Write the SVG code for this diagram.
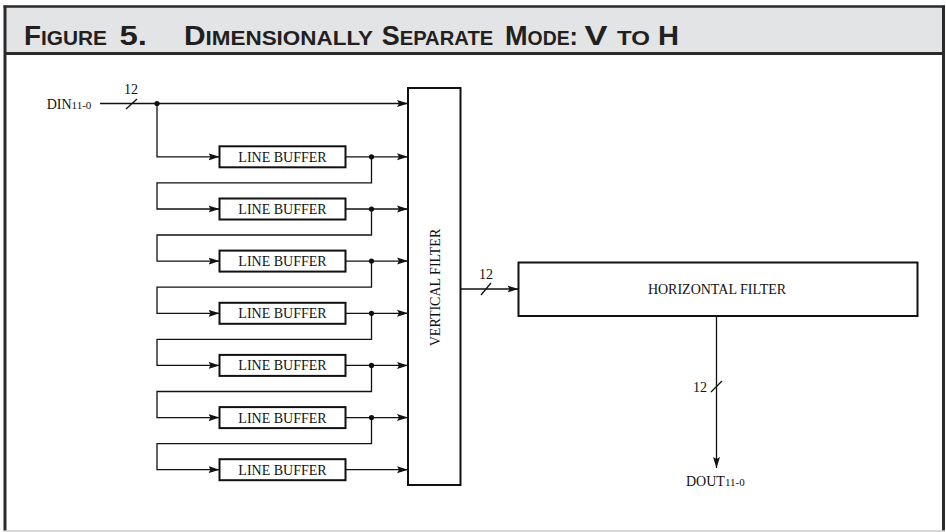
<svg xmlns="http://www.w3.org/2000/svg" width="946" height="532" viewBox="0 0 946 532">
<defs>
<style>
.ttl{font-family:"Liberation Sans",Arial,sans-serif;font-weight:bold;fill:#231f20}
.lbl{font-family:"Liberation Serif","Times New Roman",serif;font-size:14px;fill:#111}
.sub{font-size:11px}
.box{fill:#fff;stroke:#111;stroke-width:2}
.wire{fill:none;stroke:#111;stroke-width:1.3}
.dot{fill:#111}
</style>
<marker id="arr" markerWidth="12" markerHeight="8" refX="11" refY="4" orient="auto" markerUnits="userSpaceOnUse">
<path d="M0,0.5 L11,4 L0,7.5 L2,4 Z" fill="#111"/>
</marker>
</defs>
<rect x="0" y="0" width="946" height="532" fill="#fff"/>
<g id="frame">
<rect x="5" y="6.5" width="938.5" height="47" fill="#e3e4e5"/>
<line x1="3.5" y1="6.5" x2="945" y2="6.5" stroke="#2a2a2a" stroke-width="2.5"/>
<line x1="5" y1="53.5" x2="943.5" y2="53.5" stroke="#2a2a2a" stroke-width="3"/>
<line x1="5" y1="5.5" x2="5" y2="531" stroke="#2a2a2a" stroke-width="3"/>
<line x1="943.5" y1="5.5" x2="943.5" y2="531" stroke="#2a2a2a" stroke-width="3"/>
<line x1="3.5" y1="531" x2="945" y2="531" stroke="#c8c8c8" stroke-width="1.5"/>
</g>
<g id="title">
<text class="ttl" x="24" y="44.5" textLength="83" lengthAdjust="spacingAndGlyphs"><tspan font-size="28">F</tspan><tspan font-size="21">IGURE</tspan></text>
<text class="ttl" x="119.5" y="44.5" font-size="28" textLength="27.5" lengthAdjust="spacingAndGlyphs">5.</text>
<text class="ttl" x="184" y="44.5" textLength="189" lengthAdjust="spacingAndGlyphs"><tspan font-size="28">D</tspan><tspan font-size="21">IMENSIONALLY</tspan></text>
<text class="ttl" x="381.7" y="44.5" textLength="111.5" lengthAdjust="spacingAndGlyphs"><tspan font-size="28">S</tspan><tspan font-size="21">EPARATE</tspan></text>
<text class="ttl" x="505" y="44.5" textLength="73" lengthAdjust="spacingAndGlyphs"><tspan font-size="28">M</tspan><tspan font-size="20">ODE</tspan><tspan font-size="26">:</tspan></text>
<text class="ttl" x="584.5" y="44.5" font-size="28" textLength="23" lengthAdjust="spacingAndGlyphs">V</text>
<text class="ttl" x="617" y="44.5" font-size="21" textLength="33" lengthAdjust="spacingAndGlyphs">TO</text>
<text class="ttl" x="658" y="44.5" font-size="28" textLength="21" lengthAdjust="spacingAndGlyphs">H</text>
</g>
<g id="connectors">
<path class="wire" d="M100,103.5 H408" marker-end="url(#arr)"/>
<line class="wire" x1="126" y1="109" x2="137" y2="99"/>
<path class="wire" d="M157,103.5 V156.8 H219.5" marker-end="url(#arr)"/>
<circle class="dot" cx="157" cy="103.5" r="2.6"/>
<path class="wire" d="M345.5,156.8 H408" marker-end="url(#arr)"/>
<circle class="dot" cx="371.5" cy="156.8" r="2.6"/>
<path class="wire" d="M371.5,156.8 V182.8 H157 V209 H219.5" marker-end="url(#arr)"/>
<path class="wire" d="M345.5,209 H408" marker-end="url(#arr)"/>
<circle class="dot" cx="371.5" cy="209" r="2.6"/>
<path class="wire" d="M371.5,209 V235 H157 V261.1 H219.5" marker-end="url(#arr)"/>
<path class="wire" d="M345.5,261.1 H408" marker-end="url(#arr)"/>
<circle class="dot" cx="371.5" cy="261.1" r="2.6"/>
<path class="wire" d="M371.5,261.1 V287.2 H157 V313.3 H219.5" marker-end="url(#arr)"/>
<path class="wire" d="M345.5,313.3 H408" marker-end="url(#arr)"/>
<circle class="dot" cx="371.5" cy="313.3" r="2.6"/>
<path class="wire" d="M371.5,313.3 V339.4 H157 V365.4 H219.5" marker-end="url(#arr)"/>
<path class="wire" d="M345.5,365.4 H408" marker-end="url(#arr)"/>
<circle class="dot" cx="371.5" cy="365.4" r="2.6"/>
<path class="wire" d="M371.5,365.4 V391.5 H157 V417.6 H219.5" marker-end="url(#arr)"/>
<path class="wire" d="M345.5,417.6 H408" marker-end="url(#arr)"/>
<circle class="dot" cx="371.5" cy="417.6" r="2.6"/>
<path class="wire" d="M371.5,417.6 V443.6 H157 V469.7 H219.5" marker-end="url(#arr)"/>
<path class="wire" d="M345.5,469.7 H408" marker-end="url(#arr)"/>
<path class="wire" d="M460.5,289 H518.5" marker-end="url(#arr)"/>
<line class="wire" x1="481" y1="295" x2="491" y2="283"/>
<path class="wire" d="M716.5,316 V468" marker-end="url(#arr)"/>
<line class="wire" x1="711" y1="392" x2="722" y2="381"/>
</g>
<g id="labels">
<text class="lbl" x="46.7" y="108.5">DIN<tspan class="sub">11-0</tspan></text>
<text class="lbl" x="131" y="94" text-anchor="middle">12</text>
<text class="lbl" x="486" y="279" text-anchor="middle">12</text>
<text class="lbl" x="707" y="392" text-anchor="end">12</text>
<text class="lbl" x="686" y="486">DOUT<tspan class="sub">11-0</tspan></text>
</g>
<g id="lb1"><rect class="box" x="219.5" y="146.3" width="126" height="21"/><text class="lbl" x="282.5" y="161.8" text-anchor="middle">LINE BUFFER</text></g>
<g id="lb2"><rect class="box" x="219.5" y="198.5" width="126" height="21"/><text class="lbl" x="282.5" y="214" text-anchor="middle">LINE BUFFER</text></g>
<g id="lb3"><rect class="box" x="219.5" y="250.6" width="126" height="21"/><text class="lbl" x="282.5" y="266.1" text-anchor="middle">LINE BUFFER</text></g>
<g id="lb4"><rect class="box" x="219.5" y="302.8" width="126" height="21"/><text class="lbl" x="282.5" y="318.3" text-anchor="middle">LINE BUFFER</text></g>
<g id="lb5"><rect class="box" x="219.5" y="354.9" width="126" height="21"/><text class="lbl" x="282.5" y="370.4" text-anchor="middle">LINE BUFFER</text></g>
<g id="lb6"><rect class="box" x="219.5" y="407.1" width="126" height="21"/><text class="lbl" x="282.5" y="422.6" text-anchor="middle">LINE BUFFER</text></g>
<g id="lb7"><rect class="box" x="219.5" y="459.2" width="126" height="21"/><text class="lbl" x="282.5" y="474.7" text-anchor="middle">LINE BUFFER</text></g>
<g id="vfilter"><rect class="box" x="408" y="88" width="52.5" height="397"/><text class="lbl" transform="translate(439.5,287.5) rotate(-90)" text-anchor="middle">VERTICAL FILTER</text></g>
<g id="hfilter"><rect class="box" x="518.5" y="262.5" width="399" height="53.5"/><text class="lbl" x="717" y="294" text-anchor="middle" font-size="14.5">HORIZONTAL FILTER</text></g>
</svg>
